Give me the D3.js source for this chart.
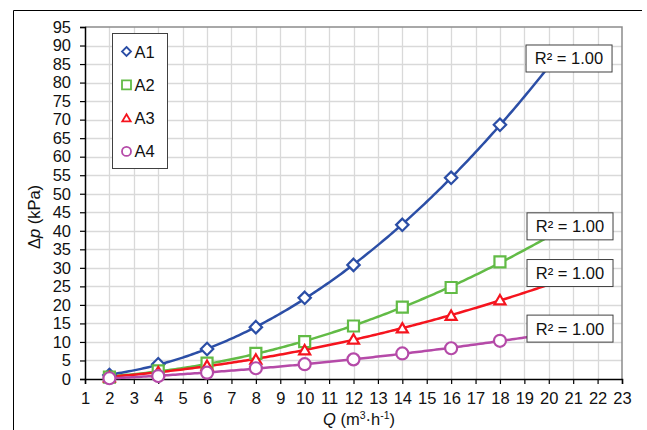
<!DOCTYPE html>
<html>
<head>
<meta charset="utf-8">
<script src="https://cdn.jsdelivr.net/npm/d3@7"></script>
<style>
  html, body { margin: 0; padding: 0; background: #fff; }
  svg { display: block; font-family: "Liberation Sans", Arial, sans-serif; }
</style>
</head>
<body>
<svg id="chart" width="647" height="430"></svg>
<script>
// Flow rate Q (m³·h⁻¹) at which pressure drop was measured
const flowRates = [2, 4, 6, 8, 10, 12, 14, 16, 18];

// Pressure drop Δp (kPa) for each variant
const seriesNames = ["A1", "A2", "A3", "A4"];
const dpA1 = [1.1, 4.0, 8.1, 14.0, 21.9, 30.8, 41.6, 54.3, 68.6];
const dpA2 = [0.5, 2.2, 4.3, 6.9, 10.1, 14.3, 19.4, 24.7, 31.6];
const dpA3 = [0.5, 1.9, 3.6, 5.3, 7.8, 10.7, 13.7, 17.1, 21.3];
const dpA4 = [0.2, 0.8, 1.7, 2.9, 4.0, 5.3, 6.9, 8.3, 10.3];

// Axis ticks
const xTicks = [1, 2, 3, 4, 5, 6, 7, 8, 9, 10, 11, 12, 13, 14, 15, 16, 17, 18, 19, 20, 21, 22, 23];
const yTicks = [0, 5, 10, 15, 20, 25, 30, 35, 40, 45, 50, 55, 60, 65, 70, 75, 80, 85, 90, 95];

// Trendlines are extended forward to this flow rate
const trendEnd = 20;

const series = [
  { name: seriesNames[0], values: dpA1, color: "#2b4ea6", marker: "diamond" },
  { name: seriesNames[1], values: dpA2, color: "#62bb46", marker: "square" },
  { name: seriesNames[2], values: dpA3, color: "#f5141e", marker: "triangle" },
  { name: seriesNames[3], values: dpA4, color: "#b54aa8", marker: "circle" }
];

// Placement of the R² boxes (in axis units)
const r2Anchors = [[20.83, 86.5], [20.87, 41.2], [20.87, 28.6], [20.87, 13.6]];

const FONT = 16.5;
const svg = d3.select("#chart");
const plot = { left: 85, right: 622, top: 27, bottom: 379 };

const x = d3.scaleLinear().domain([1, 23]).range([plot.left, plot.right]);
const y = d3.scaleLinear().domain([0, 95]).range([plot.bottom, plot.top]);

// Outer chart frame (left and top edges visible)
svg.append("path")
  .attr("d", "M13.5,430 L13.5,10.5 L642,10.5")
  .attr("fill", "none").attr("stroke", "#000").attr("stroke-width", 1);

// Gridlines
const grid = svg.append("g");
grid.selectAll("line.v").data(xTicks.slice(1, -1)).join("line")
  .attr("x1", d => Math.round(x(d)) + 0.5).attr("x2", d => Math.round(x(d)) + 0.5)
  .attr("y1", plot.top).attr("y2", plot.bottom)
  .attr("stroke", "#d9d9d9").attr("stroke-width", 1.3);
grid.selectAll("line.h").data(yTicks.slice(1, -1)).join("line")
  .attr("y1", d => Math.round(y(d)) + 0.5).attr("y2", d => Math.round(y(d)) + 0.5)
  .attr("x1", plot.left).attr("x2", plot.right)
  .attr("stroke", "#d9d9d9").attr("stroke-width", 1.3);

// Plot frame top and right
svg.append("path")
  .attr("d", `M${plot.left},${plot.top} L${plot.right},${plot.top} L${plot.right},${plot.bottom}`)
  .attr("fill", "none").attr("stroke", "#8c8c8c").attr("stroke-width", 1.5);

// Axes
const xAxis = svg.append("g")
  .attr("transform", `translate(0,${plot.bottom})`)
  .call(d3.axisBottom(x).tickValues(xTicks).tickFormat(d3.format("d")).tickSizeOuter(0).tickSize(5).tickPadding(8));
const yAxis = svg.append("g")
  .attr("transform", `translate(${plot.left},0)`)
  .call(d3.axisLeft(y).tickValues(yTicks).tickFormat(d3.format("d")).tickSizeOuter(0).tickSize(5).tickPadding(9));
[xAxis, yAxis].forEach(a => {
  a.select(".domain").attr("stroke", "#000").attr("stroke-width", 1.5);
  a.selectAll(".tick line").attr("stroke", "#000").attr("stroke-width", 1.2);
  a.selectAll(".tick text").attr("fill", "#111")
    .style("font-size", FONT + "px").style("font-family", "'Liberation Sans', Arial, sans-serif");
});

// Axis titles
svg.append("text")
  .attr("transform", "translate(40,217) rotate(-90)")
  .attr("text-anchor", "middle").attr("font-size", FONT).attr("fill", "#111")
  .call(t => {
    t.append("tspan").text("Δ");
    t.append("tspan").attr("font-style", "italic").text("p");
    t.append("tspan").text(" (kPa)");
  });

svg.append("text")
  .attr("x", 359).attr("y", 425)
  .attr("text-anchor", "middle").attr("font-size", FONT).attr("fill", "#111")
  .call(t => {
    t.append("tspan").attr("font-style", "italic").text("Q");
    t.append("tspan").text(" (m");
    t.append("tspan").attr("font-size", 10.5).attr("dy", -6).text("3");
    t.append("tspan").attr("dy", 6).text("·h");
    t.append("tspan").attr("font-size", 10.5).attr("dy", -6).text("-1");
    t.append("tspan").attr("dy", 6).text(")");
  });

// Least-squares quadratic fit y = a x² + b x + c, with R²
function quadFit(xs, ys) {
  const s = [0, 0, 0, 0, 0], t = [0, 0, 0];
  xs.forEach((xi, i) => {
    for (let k = 0; k <= 4; k++) s[k] += Math.pow(xi, k);
    for (let k = 0; k <= 2; k++) t[k] += ys[i] * Math.pow(xi, k);
  });
  // Normal equations for [c, b, a], solved by Gauss-Jordan elimination
  const M = [
    [s[0], s[1], s[2], t[0]],
    [s[1], s[2], s[3], t[1]],
    [s[2], s[3], s[4], t[2]]
  ];
  for (let i = 0; i < 3; i++) {
    let p = i;
    for (let r = i + 1; r < 3; r++) if (Math.abs(M[r][i]) > Math.abs(M[p][i])) p = r;
    [M[i], M[p]] = [M[p], M[i]];
    for (let r = 0; r < 3; r++) {
      if (r === i) continue;
      const f = M[r][i] / M[i][i];
      for (let cidx = i; cidx < 4; cidx++) M[r][cidx] -= f * M[i][cidx];
    }
  }
  const c = M[0][3] / M[0][0], b = M[1][3] / M[1][1], a = M[2][3] / M[2][2];
  const f = v => a * v * v + b * v + c;
  const mean = d3.mean(ys);
  const ssTot = d3.sum(ys, v => (v - mean) ** 2);
  const ssRes = d3.sum(xs, (xi, i) => (ys[i] - f(xi)) ** 2);
  return { f, r2: 1 - ssRes / ssTot };
}

// Marker shapes
function markerPath(type, r) {
  switch (type) {
    case "diamond": return `M0,${-r}L${r},0L0,${r}L${-r},0Z`;
    case "square": return `M${-r},${-r}H${r}V${r}H${-r}Z`;
    case "triangle": {
      const h = r * 1.7;
      return `M0,${-h * 0.55}L${r},${h * 0.45}L${-r},${h * 0.45}Z`;
    }
    default: return `M${r},0A${r},${r} 0 1,1 ${-r},0A${r},${r} 0 1,1 ${r},0Z`;
  }
}

// Trendlines
const line = d3.line().x(d => x(d[0])).y(d => y(d[1]));
series.forEach(s => {
  s.fit = quadFit(flowRates, s.values);
  const pts = d3.range(flowRates[0], trendEnd + 0.001, 0.1).map(q => [q, s.fit.f(q)]);
  svg.append("path").datum(pts)
    .attr("d", line)
    .attr("fill", "none").attr("stroke", s.color).attr("stroke-width", 2.5)
    .attr("stroke-linejoin", "round");
});

// Data markers
const markerSize = { diamond: 6.2, square: 5.5, triangle: 5.5, circle: 6 };
series.forEach(s => {
  svg.append("g").selectAll("path").data(flowRates.map((q, i) => [q, s.values[i]])).join("path")
    .attr("transform", d => `translate(${x(d[0])},${y(d[1])})`)
    .attr("d", markerPath(s.marker, markerSize[s.marker]))
    .attr("fill", "#fff").attr("stroke", s.color).attr("stroke-width", 2.2);
});

// R² labels
series.forEach((s, i) => {
  const [ax, ay] = r2Anchors[i];
  const g = svg.append("g").attr("transform", `translate(${x(ax)},${y(ay)})`);
  g.append("rect").attr("x", -43).attr("y", -13.5).attr("width", 86).attr("height", 27)
    .attr("fill", "#fff").attr("stroke", "#404040").attr("stroke-width", 1);
  g.append("text").attr("text-anchor", "middle").attr("y", 6)
    .attr("font-size", FONT).attr("fill", "#111")
    .text(`R² = ${s.fit.r2.toFixed(2)}`);
});

// Legend
const legend = svg.append("g").attr("transform", "translate(112.5,33.5)");
legend.append("rect").attr("width", 55).attr("height", 135)
  .attr("fill", "#fff").attr("stroke", "#404040").attr("stroke-width", 1);
const legendSize = { diamond: 4.5, square: 4.5, triangle: 4.2, circle: 4.5 };
series.forEach((s, i) => {
  const row = legend.append("g").attr("transform", `translate(14,${18 + i * 33.3})`);
  row.append("path").attr("d", markerPath(s.marker, legendSize[s.marker]))
    .attr("fill", "#fff").attr("stroke", s.color).attr("stroke-width", 1.8);
  row.append("text").attr("x", 8).attr("y", 6)
    .attr("font-size", FONT).attr("fill", "#111").text(s.name);
});
</script>
</body>
</html>
